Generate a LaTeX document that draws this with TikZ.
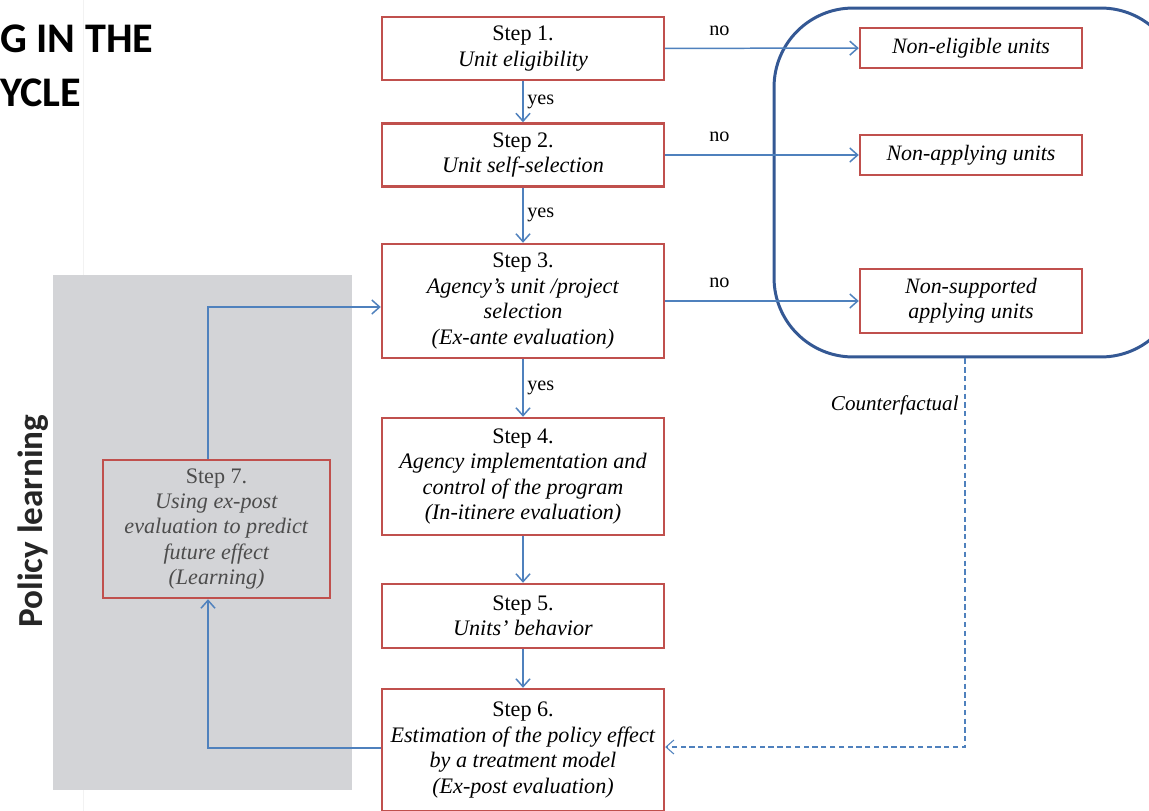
\documentclass[tikz,border=0pt]{standalone}
\usepackage{fontspec}
\setmainfont{Liberation Serif}
\newfontfamily\slidefont{Carlito}
\usetikzlibrary{arrows.meta}
\definecolor{boxred}{RGB}{192,80,77}
\definecolor{arrowblue}{RGB}{79,129,189}
\definecolor{frameblue}{RGB}{52,88,148}
\definecolor{learngrey}{RGB}{211,212,215}
\begin{document}
\begin{tikzpicture}[x=0.02cm,y=-0.02cm,
    stepbox/.style={draw=boxred,line width=1.4pt,fill=white,minimum width=5.64cm,
      align=center,inner sep=0pt,font=\fontsize{12.6}{14.5}\selectfont},
    unitbox/.style={stepbox,minimum width=4.44cm,font=\fontsize{12.5}{14.5}\selectfont\itshape},
    arr/.style={draw=arrowblue,line width=0.85pt,-{Straight Barb[length=4.5pt,width=8pt]}},
    lbl/.style={font=\fontsize{11.5}{13}\selectfont,inner sep=2pt}]
      \useasboundingbox[fill=white](0,0)rectangle(1149,811);
      \draw[black!5](83,0)--(83,811);

      % policy learning band
      \fill[learngrey](53,275)rectangle(352,790);
      \node[font=\slidefont\bfseries\fontsize{24}{28}\selectfont,anchor=base west,inner sep=0pt](ttl1)at(0,53){G IN THE};
      \node[font=\slidefont\bfseries\fontsize{24}{28}\selectfont,anchor=base west,inner sep=0pt](ttl2)at(0,107){YCLE};
      \node[font=\slidefont\bfseries\fontsize{20}{22}\selectfont,rotate=90,text=black!85](pl)at(33,521){Policy learning};

      % counterfactual group
      \node[draw=frameblue,line width=1.7pt,rounded corners=45pt,minimum width=8.12cm,minimum height=6.98cm](grp)at(977,182.5){};

      \node[stepbox,minimum height=1.26cm](s1)at(523,48.5){Step 1.\\\textit{Unit eligibility}};
      \node[stepbox,minimum height=1.26cm](s2)at(523,155){Step 2.\\\textit{Unit self-selection}};
      \node[stepbox,minimum height=2.28cm](s3)at(523,301){Step 3.\\\textit{Agency's unit /project}\\\textit{selection}\\\textit{(Ex-ante evaluation)}};
      \node[stepbox,minimum height=2.34cm](s4)at(523,476.5){Step 4.\\\textit{Agency implementation and}\\\textit{control of the program}\\\textit{(In-itinere evaluation)}};
      \node[stepbox,minimum height=1.28cm](s5)at(523,616){Step 5.\\\textit{Units' behavior}};
      \node[stepbox,minimum height=2.44cm](s6)at(523,750){Step 6.\\\textit{Estimation of the policy effect}\\\textit{by a treatment model}\\\textit{(Ex-post evaluation)}};
      \node[stepbox,fill=learngrey,text=black!70,minimum width=4.54cm,minimum height=2.76cm](s7)at(216.5,529){Step 7.\\\textit{Using ex-post}\\\textit{evaluation to predict}\\\textit{future effect}\\\textit{(Learning)}};

      \node[unitbox,minimum height=0.8cm](ne)at(971,48){Non-eligible units};
      \node[unitbox,minimum height=0.8cm](na)at(971,155){Non-applying units};
      \node[unitbox,minimum height=1.28cm](ns)at(971,301){Non-supported\\applying units};

      \draw[arr](s1)--node[lbl,right]{yes}(s2);
      \draw[arr](s2)--node[lbl,right]{yes}(s3);
      \draw[arr](s3)--node[lbl,right]{yes}(s4);
      \draw[arr](s4)--(s5);
      \draw[arr](s5)--(s6);

      \draw[arr](s1)--node[lbl,above=5pt,pos=0.28]{no}(ne);
      \draw[arr](s2)--node[lbl,above=5pt,pos=0.28]{no}(na);
      \draw[arr](s3)--node[lbl,above=5pt,pos=0.28]{no}(ns);

      % learning loop
      \coordinate(up)at(208,307);
      \coordinate(down)at(208,748);
      \draw[arr](s7.north-|up)--(up)--(up-|s3.west);
      \draw[arr](s6.west|-down)--(down)--(down|-s7.south);

      % counterfactual link
      \coordinate(cf)at(965,747);
      \draw[arr,line width=0.6pt,dash pattern=on 3pt off 2pt](grp.south-|cf)--node[pos=0.12,left,font=\fontsize{12}{14}\selectfont\itshape]{Counterfactual}(cf)--(cf-|s6.east);
    \end{tikzpicture}
\end{document}
